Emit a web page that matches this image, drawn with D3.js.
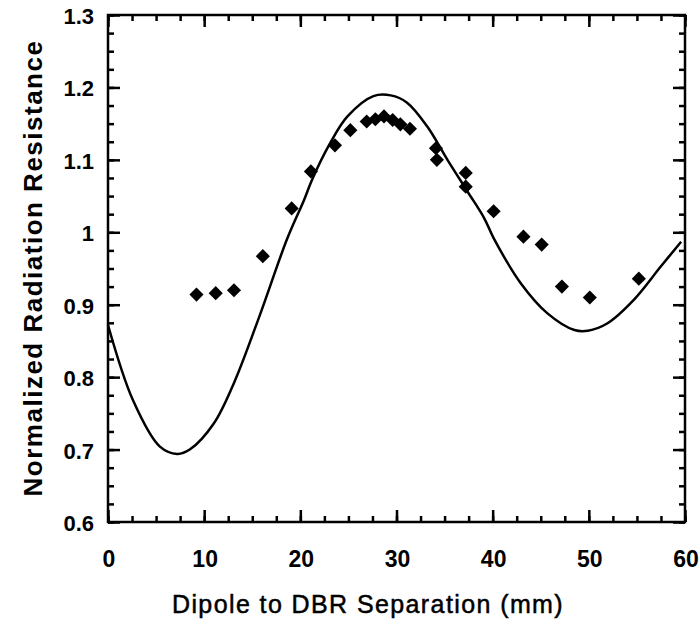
<!DOCTYPE html>
<html>
<head>
<meta charset="utf-8">
<script src="https://cdn.jsdelivr.net/npm/d3@7"></script>
<style>
  body { margin: 0; background: #fff; }
  text { font-family: "Liberation Sans", Arial, sans-serif; fill: #000; }
  .ticks line { stroke: #000; stroke-width: 2.5px; }
  .ticks .domain { display: none; }
</style>
</head>
<body>
<div id="chart"></div>
<script>
// Theory curve
const curveX = [0, 2.6, 5.4, 7.2, 8.5, 11.0, 13.1, 15.8, 18.6, 20.4, 21.2, 23.1, 24.9, 27.6, 29.4, 31.1, 33.2, 35.3, 37.4, 39.1, 40.1, 42.9, 45.7, 48.5, 49.9, 51.9, 54.7, 57.5, 59.6];
const curveY = [0.872, 0.768, 0.704, 0.694, 0.700, 0.736, 0.792, 0.886, 0.990, 1.045, 1.072, 1.123, 1.160, 1.188, 1.189, 1.179, 1.146, 1.100, 1.056, 1.020, 0.992, 0.930, 0.888, 0.865, 0.864, 0.874, 0.907, 0.953, 0.987];

// Measured points
const measX = [9.2, 11.2, 13.1, 16.1, 19.1, 21.1, 23.6, 25.2, 26.9, 27.8, 28.7, 29.6, 30.4, 31.4, 34.1, 34.2, 37.2, 37.2, 40.1, 43.2, 45.1, 47.2, 50.1, 55.2];
const measY = [0.914, 0.916, 0.920, 0.967, 1.033, 1.084, 1.120, 1.141, 1.153, 1.156, 1.160, 1.155, 1.149, 1.143, 1.116, 1.100, 1.082, 1.063, 1.029, 0.994, 0.983, 0.925, 0.910, 0.936];

const xTicks = [0, 10, 20, 30, 40, 50, 60];
const yTicks = [0.6, 0.7, 0.8, 0.9, 1.0, 1.1, 1.2, 1.3];

const w = 700, h = 624;
const mLeft = 108, mRight = 685, mTop = 15, mBottom = 522;

const svg = d3.select('#chart').append('svg')
  .attr('width', w)
  .attr('height', h);

const xScale = d3.scaleLinear().domain([0, 60]).range([mLeft, mRight]);
const yScale = d3.scaleLinear().domain([0.6, 1.3]).range([mBottom, mTop]);

// Inward ticks on all four sides: minor every 2.5 / 0.025, major at labels
const xMinor = d3.range(0, 60.01, 2.5);
const yMinor = d3.range(0, 29).map(i => 0.6 + i * 0.025);

function ticks(axisFn, scale, values, size, transform) {
  svg.append('g')
    .attr('class', 'ticks')
    .attr('transform', transform)
    .call(axisFn(scale).tickValues(values).tickSize(size).tickFormat(''));
}

ticks(d3.axisBottom, xScale, xMinor, -6, `translate(0,${mBottom})`);
ticks(d3.axisBottom, xScale, xTicks, -12, `translate(0,${mBottom})`);
ticks(d3.axisTop, xScale, xMinor, -6, `translate(0,${mTop})`);
ticks(d3.axisTop, xScale, xTicks, -12, `translate(0,${mTop})`);
ticks(d3.axisLeft, yScale, yMinor, -6, `translate(${mLeft},0)`);
ticks(d3.axisLeft, yScale, yTicks, -12, `translate(${mLeft},0)`);
ticks(d3.axisRight, yScale, yMinor, -6, `translate(${mRight},0)`);
ticks(d3.axisRight, yScale, yTicks, -12, `translate(${mRight},0)`);

// Frame
svg.append('rect')
  .attr('x', mLeft).attr('y', mTop)
  .attr('width', mRight - mLeft).attr('height', mBottom - mTop)
  .attr('fill', 'none').attr('stroke', '#000').attr('stroke-width', 2.5);

// Tick labels
svg.selectAll('.xlab')
  .data(xTicks)
  .enter().append('text')
  .attr('x', d => xScale(d) + 1)
  .attr('y', 567)
  .attr('text-anchor', 'middle')
  .attr('font-size', '23px')
  .attr('font-weight', 'bold')
  .text(d => d);

svg.selectAll('.ylab')
  .data(yTicks)
  .enter().append('text')
  .attr('x', 94)
  .attr('y', d => yScale(d) + 9)
  .attr('text-anchor', 'end')
  .attr('font-size', '22px')
  .attr('font-weight', 'bold')
  .text(d => d3.format('~g')(d));

// Axis titles
svg.append('text')
  .attr('x', 368)
  .attr('y', 613)
  .attr('text-anchor', 'middle')
  .attr('font-size', '25px')
  .attr('letter-spacing', '1.4px')
  .attr('stroke', '#000')
  .attr('stroke-width', 0.5)
  .text('Dipole to DBR Separation (mm)');

svg.append('text')
  .attr('transform', 'rotate(-90)')
  .attr('x', -268)
  .attr('y', 42)
  .attr('text-anchor', 'middle')
  .attr('font-size', '26px')
  .attr('letter-spacing', '1.5px')
  .attr('font-weight', 'bold')
  .text('Normalized Radiation Resistance');

// Theory curve
const line = d3.line()
  .x(d => xScale(d[0]))
  .y(d => yScale(d[1]))
  .curve(d3.curveCatmullRom);

svg.append('path')
  .datum(curveX.map((x, i) => [x, curveY[i]]))
  .attr('d', line)
  .attr('fill', 'none')
  .attr('stroke', '#000')
  .attr('stroke-width', 2.5);

// Measured diamonds
const diamond = d3.symbol().type(d3.symbolSquare).size(100);
svg.selectAll('.pt')
  .data(measX.map((x, i) => [x, measY[i]]))
  .enter().append('path')
  .attr('d', diamond)
  .attr('transform', d => `translate(${xScale(d[0])},${yScale(d[1])}) rotate(45)`)
  .attr('fill', '#000');
</script>
</body>
</html>
